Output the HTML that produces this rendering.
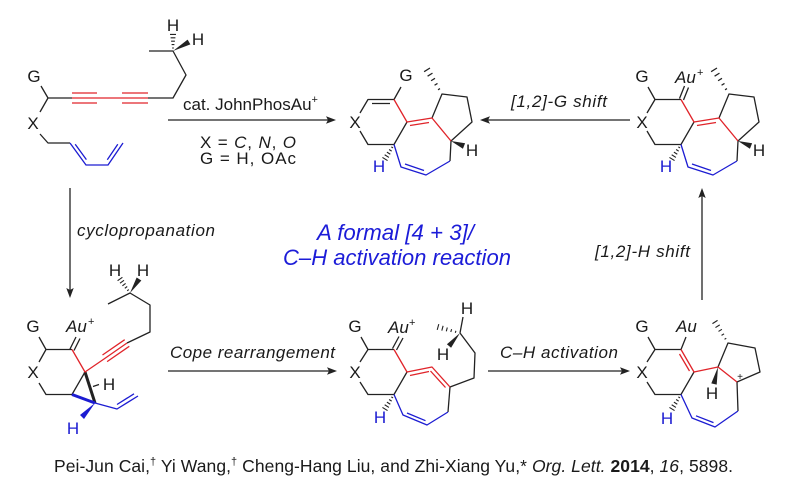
<!DOCTYPE html>
<html><head><meta charset="utf-8"><style>
html,body{margin:0;padding:0;background:#fff;}
svg{display:block;}
text{font-family:"Liberation Sans",Arial,sans-serif;fill:#1a1a1a;}
.k{stroke:#222;stroke-width:1.3;fill:none;stroke-linejoin:round;}
.r{stroke:#e0242a;stroke-width:1.3;fill:none;stroke-linejoin:round;}
.b{stroke:#1c1cd2;stroke-width:1.3;fill:none;stroke-linejoin:round;}
.h{stroke:#222;stroke-width:1.1;fill:none;}
.lab{font-size:17px;}
.it{font-style:italic;}
.bl{fill:#1c1cd2;}
</style></head><body>
<svg width="796" height="501" viewBox="0 0 796 501" xmlns="http://www.w3.org/2000/svg">

<!-- ===== Starting material ===== -->
<path class="k" d="M41,86L48,98L40,112 M40,134L48,143L70,143 M48,98L72,98 M148,98L173,98L186,75L173,51L149,51"/>
<path class="r" d="M72,93L97,93 M72,98L148,98 M72,103L97,103 M122,93L148,93 M122,103L148,103"/>
<path class="b" d="M70,143L86,165L108,165L123,143 M75.2,144.2L86.4,159.6 M107.3,159.7L117.8,144.3"/>
<path class="h" d="M172.1,48L173.9,48M171.6,44.6L174.4,44.6M171.1,41.2L174.9,41.2M170.6,37.8L175.4,37.8M170,34.4L176,34.4"/>
<polygon points="173,51 190.4,44.4 187.6,39.6" fill="#222"/>
<text class="lab" x="34" y="82" text-anchor="middle">G</text>
<text class="lab" x="33" y="129" text-anchor="middle">X</text>
<text class="lab" x="173" y="31" text-anchor="middle">H</text>
<text class="lab" x="198" y="45" text-anchor="middle">H</text>

<!-- ===== Top arrow ===== -->
<line class="k" x1="168" y1="120" x2="328" y2="120"/>
<polygon points="336,120 326,116.3 328,120 326,123.7" fill="#222"/>
<text x="183" y="110" font-size="17">cat. JohnPhosAu<tspan font-size="11" dy="-7">+</tspan></text>
<text x="200" y="148" font-size="17" textLength="96" lengthAdjust="spacing">X = <tspan class="it">C</tspan>, <tspan class="it">N</tspan>, <tspan class="it">O</tspan></text>
<text x="200" y="164" font-size="17" textLength="96" lengthAdjust="spacing">G = H, OAc</text>

<!-- ===== Product 1 ===== -->
<g transform="translate(355,122)">
<path class="k" d="M5,-9L13,-22.5L39,-22.5L46,-35 M17,-18.5L35,-18.5 M5,9L13,22.5L39,22.5L52,0 M77,-4L87,-28L112,-25L117,0L96,19L95,39"/>
<path class="r" d="M39,-22.5L52,0L77,-4L96,19 M55,3.5L74,0.5"/>
<path class="b" d="M39,22.5L46,45L71,53L95,39 M50,42L69,48.5"/>
<path class="h" transform="translate(39,22.5)" d="M-2.65,2.37L-0.95,3.43M-4.88,5L-2.32,6.6M-7.1,7.64L-3.7,9.76M-9.33,10.27L-5.07,12.93M-11.55,12.91L-6.45,16.09"/>
<path class="h" transform="translate(87,-28) scale(1.15)" d="M-3.45,-3.67L-1.75,-4.73M-6.48,-7.6L-3.92,-9.2M-9.5,-11.54L-6.1,-13.66M-12.53,-15.47L-8.27,-18.13M-15.55,-19.4L-10.45,-22.6"/>
<polygon points="96,19 107.9,26.8 110.1,21.2" fill="#222"/>
<text class="lab" x="51" y="-41" text-anchor="middle">G</text>
<text class="lab" x="0" y="6" text-anchor="middle">X</text>
<text class="lab" x="117" y="34" text-anchor="middle">H</text>
<text class="lab bl" x="24" y="50" text-anchor="middle">H</text>
</g>

<!-- ===== [1,2]-G arrow ===== -->
<line class="k" x1="488" y1="120" x2="630" y2="120"/>
<polygon points="480,120 490,116.3 488,120 490,123.7" fill="#222"/>
<text class="it" x="511" y="107" font-size="17" textLength="96" lengthAdjust="spacing">[1,2]-G shift</text>

<!-- ===== Right-top ===== -->
<g transform="translate(642,122)">
<path class="k" d="M6,-35L13,-22.5L39,-22.5 M5,-9L13,-22.5 M5,9L13,22.5L39,22.5L52,0 M37.5,-23.5L42.5,-36 M41.5,-22L46.5,-34.5 M77,-4L87,-28L112,-25L117,0L96,19L95,39"/>
<path class="r" d="M39,-22.5L52,0L77,-4L96,19 M55,3.5L74,0.5"/>
<path class="b" d="M39,22.5L46,45L71,53L95,39 M50,42L69,48.5"/>
<path class="h" transform="translate(39,22.5)" d="M-2.65,2.37L-0.95,3.43M-4.88,5L-2.32,6.6M-7.1,7.64L-3.7,9.76M-9.33,10.27L-5.07,12.93M-11.55,12.91L-6.45,16.09"/>
<path class="h" transform="translate(87,-28) scale(1.15)" d="M-3.45,-3.67L-1.75,-4.73M-6.48,-7.6L-3.92,-9.2M-9.5,-11.54L-6.1,-13.66M-12.53,-15.47L-8.27,-18.13M-15.55,-19.4L-10.45,-22.6"/>
<polygon points="96,19 107.9,26.8 110.1,21.2" fill="#222"/>
<text class="lab" x="0" y="-40" text-anchor="middle">G</text>
<text class="lab" x="0" y="6" text-anchor="middle">X</text>
<text class="lab it" x="33" y="-39">Au</text>
<text x="55" y="-46" font-size="11">+</text>
<text class="lab" x="117" y="34" text-anchor="middle">H</text>
<text class="lab bl" x="24" y="50" text-anchor="middle">H</text>
</g>

<!-- ===== Left vertical arrow ===== -->
<line class="k" x1="70" y1="188" x2="70" y2="290"/>
<polygon points="70,298 66.3,288 70,290 73.7,288" fill="#222"/>
<text class="it" x="77" y="236" font-size="17" textLength="138" lengthAdjust="spacing">cyclopropanation</text>

<!-- ===== Blue title ===== -->
<text class="it" x="317" y="240" font-size="22" style="fill:#1c1cd8" textLength="157" lengthAdjust="spacingAndGlyphs">A formal [4 + 3]/</text>
<text class="it" x="283" y="265" font-size="22" style="fill:#1c1cd8" textLength="228" lengthAdjust="spacingAndGlyphs">C–H activation reaction</text>

<!-- ===== Right vertical arrow ===== -->
<line class="k" x1="702" y1="196" x2="702" y2="300"/>
<polygon points="702,188 698.3,198 702,196 705.7,198" fill="#222"/>
<text class="it" x="595" y="257" font-size="17" textLength="95" lengthAdjust="spacing">[1,2]-H shift</text>

<!-- ===== Cyclopropane intermediate ===== -->
<path class="k" d="M39,337L46,349.5L72,349.5 M46,349.5L39,362 M39,383L46,394.5L72,394.5L85,372 M70,349L76,337 M74,350.5L80,338.5 M127,343L150,332L150,305L130,293L108,304 M93,386.5L99,384.5"/>
<path d="M85,372L95,403" stroke="#222" stroke-width="3" fill="none"/>
<path d="M72,394.5L95,403" stroke="#1c1cd2" stroke-width="3" fill="none"/>
<path class="r" d="M72,349.5L85,372L104,359L127,343 M102.5,355L124.7,339.7 M107.1,361.6L129.3,346.3"/>
<path class="b" d="M95,403L117,409L138,396 M117,404.5L134,393.8"/>
<polygon points="95,403 84,419 80,415" fill="#1c1cd2"/>
<path class="h" d="M127.2,290.8L128.8,289.6M124.8,288.3L127.2,286.5M122.4,285.8L125.6,283.4M120,283.2L124,280.3M117.6,280.7L122.4,277.3"/>
<polygon points="130,293 141.35,280.5 136.65,277.5" fill="#222"/>
<text class="lab" x="33" y="332" text-anchor="middle">G</text>
<text class="lab" x="33" y="378" text-anchor="middle">X</text>
<text class="lab it" x="66" y="332">Au</text>
<text x="88" y="325" font-size="11">+</text>
<text class="lab" x="115" y="276" text-anchor="middle">H</text>
<text class="lab" x="143" y="276" text-anchor="middle">H</text>
<text class="lab" x="109" y="390" text-anchor="middle">H</text>
<text class="lab bl" x="73" y="434" text-anchor="middle">H</text>

<!-- ===== Cope arrow ===== -->
<line class="k" x1="168" y1="371" x2="330" y2="371"/>
<polygon points="337,371 327,367.3 329,371 327,374.7" fill="#222"/>
<text class="it" x="170" y="358" font-size="17" textLength="165" lengthAdjust="spacing">Cope rearrangement</text>

<!-- ===== Middle bottom intermediate ===== -->
<path class="k" d="M361,337L368,349.5L394,349.5 M368,349.5L360,362 M360,382L368,394.5L394,394.5L407,372 M392.5,348.5L399,336.5 M396.5,350L403,338 M450,387L474,378L475,353L460,333 M460,333L463,317 M450,387L448,412"/>
<path class="r" d="M394,349.5L407,372L432,367L450,387 M410,375.5L429,371.5 M430.5,371L445.5,387.5"/>
<path class="b" d="M394,394.5L403,415L427,425L448,412 M407,413L425.5,420.7"/>
<path class="h" transform="translate(394,394.5)" d="M-2.65,2.37L-0.95,3.43M-4.88,5L-2.32,6.6M-7.1,7.64L-3.7,9.76M-9.33,10.27L-5.07,12.93M-11.55,12.91L-6.45,16.09"/>
<path class="h" d="M455.3,332.8L455.9,330.8M450.8,332L451.6,329.2M446.3,331.3L447.3,327.5M441.8,330.6L443.1,325.8M437.2,329.9L438.8,324.1"/>
<polygon points="460,333 451.1,347.8 446.9,344.2" fill="#222"/>
<text class="lab" x="355" y="332" text-anchor="middle">G</text>
<text class="lab" x="355" y="378" text-anchor="middle">X</text>
<text class="lab it" x="388" y="333">Au</text>
<text x="409" y="326" font-size="11">+</text>
<text class="lab" x="467" y="314" text-anchor="middle">H</text>
<text class="lab" x="443" y="360" text-anchor="middle">H</text>
<text class="lab bl" x="380" y="423" text-anchor="middle">H</text>

<!-- ===== C–H activation arrow ===== -->
<line class="k" x1="488" y1="371" x2="623" y2="371"/>
<polygon points="630,371 620,367.3 622,371 620,374.7" fill="#222"/>
<text class="it" x="500" y="358" font-size="17" textLength="118" lengthAdjust="spacing">C–H activation</text>

<!-- ===== Right bottom intermediate ===== -->
<path class="k" d="M648,337L655,349.5L681,349.5 M655,349.5L647,362 M647,382L655,394.5L681,394.5L694,372 M681,349.5L686,337 M718,367L728,343L755,348L760,372L737,382 M737,382L738,411"/>
<path class="r" d="M681,349.5L694,372L718,367L737,382 M679.5,354L689.5,371"/>
<path class="b" d="M681,394.5L692,418L715,427L738,411 M696,415.8L713.5,422.6"/>
<path class="h" transform="translate(681,394.5)" d="M-2.65,2.37L-0.95,3.43M-4.88,5L-2.32,6.6M-7.1,7.64L-3.7,9.76M-9.33,10.27L-5.07,12.93M-11.55,12.91L-6.45,16.09"/>
<path class="h" transform="translate(728,343)" d="M-3.45,-3.67L-1.75,-4.73M-6.48,-7.6L-3.92,-9.2M-9.5,-11.54L-6.1,-13.66M-12.53,-15.47L-8.27,-18.13M-15.55,-19.4L-10.45,-22.6"/>
<polygon points="718,367 716.7,384.65 711.3,383.35" fill="#222"/>
<text class="lab" x="642" y="332" text-anchor="middle">G</text>
<text class="lab" x="642" y="378" text-anchor="middle">X</text>
<text class="lab it" x="676" y="332">Au</text>
<text x="740" y="380" font-size="10" text-anchor="middle">+</text>
<text class="lab" x="712" y="399" text-anchor="middle">H</text>
<text class="lab bl" x="667" y="424" text-anchor="middle">H</text>

<!-- ===== Citation ===== -->
<text x="54" y="472" font-size="17.5" textLength="679" lengthAdjust="spacing">Pei-Jun Cai,<tspan font-size="11" dy="-7">†</tspan><tspan dy="7"> Yi Wang,</tspan><tspan font-size="11" dy="-7">†</tspan><tspan dy="7"> Cheng-Hang Liu, and Zhi-Xiang Yu,* </tspan><tspan class="it">Org. Lett.</tspan> <tspan font-weight="bold">2014</tspan>, <tspan class="it">16</tspan>, 5898.</text>

</svg>
</body></html>
